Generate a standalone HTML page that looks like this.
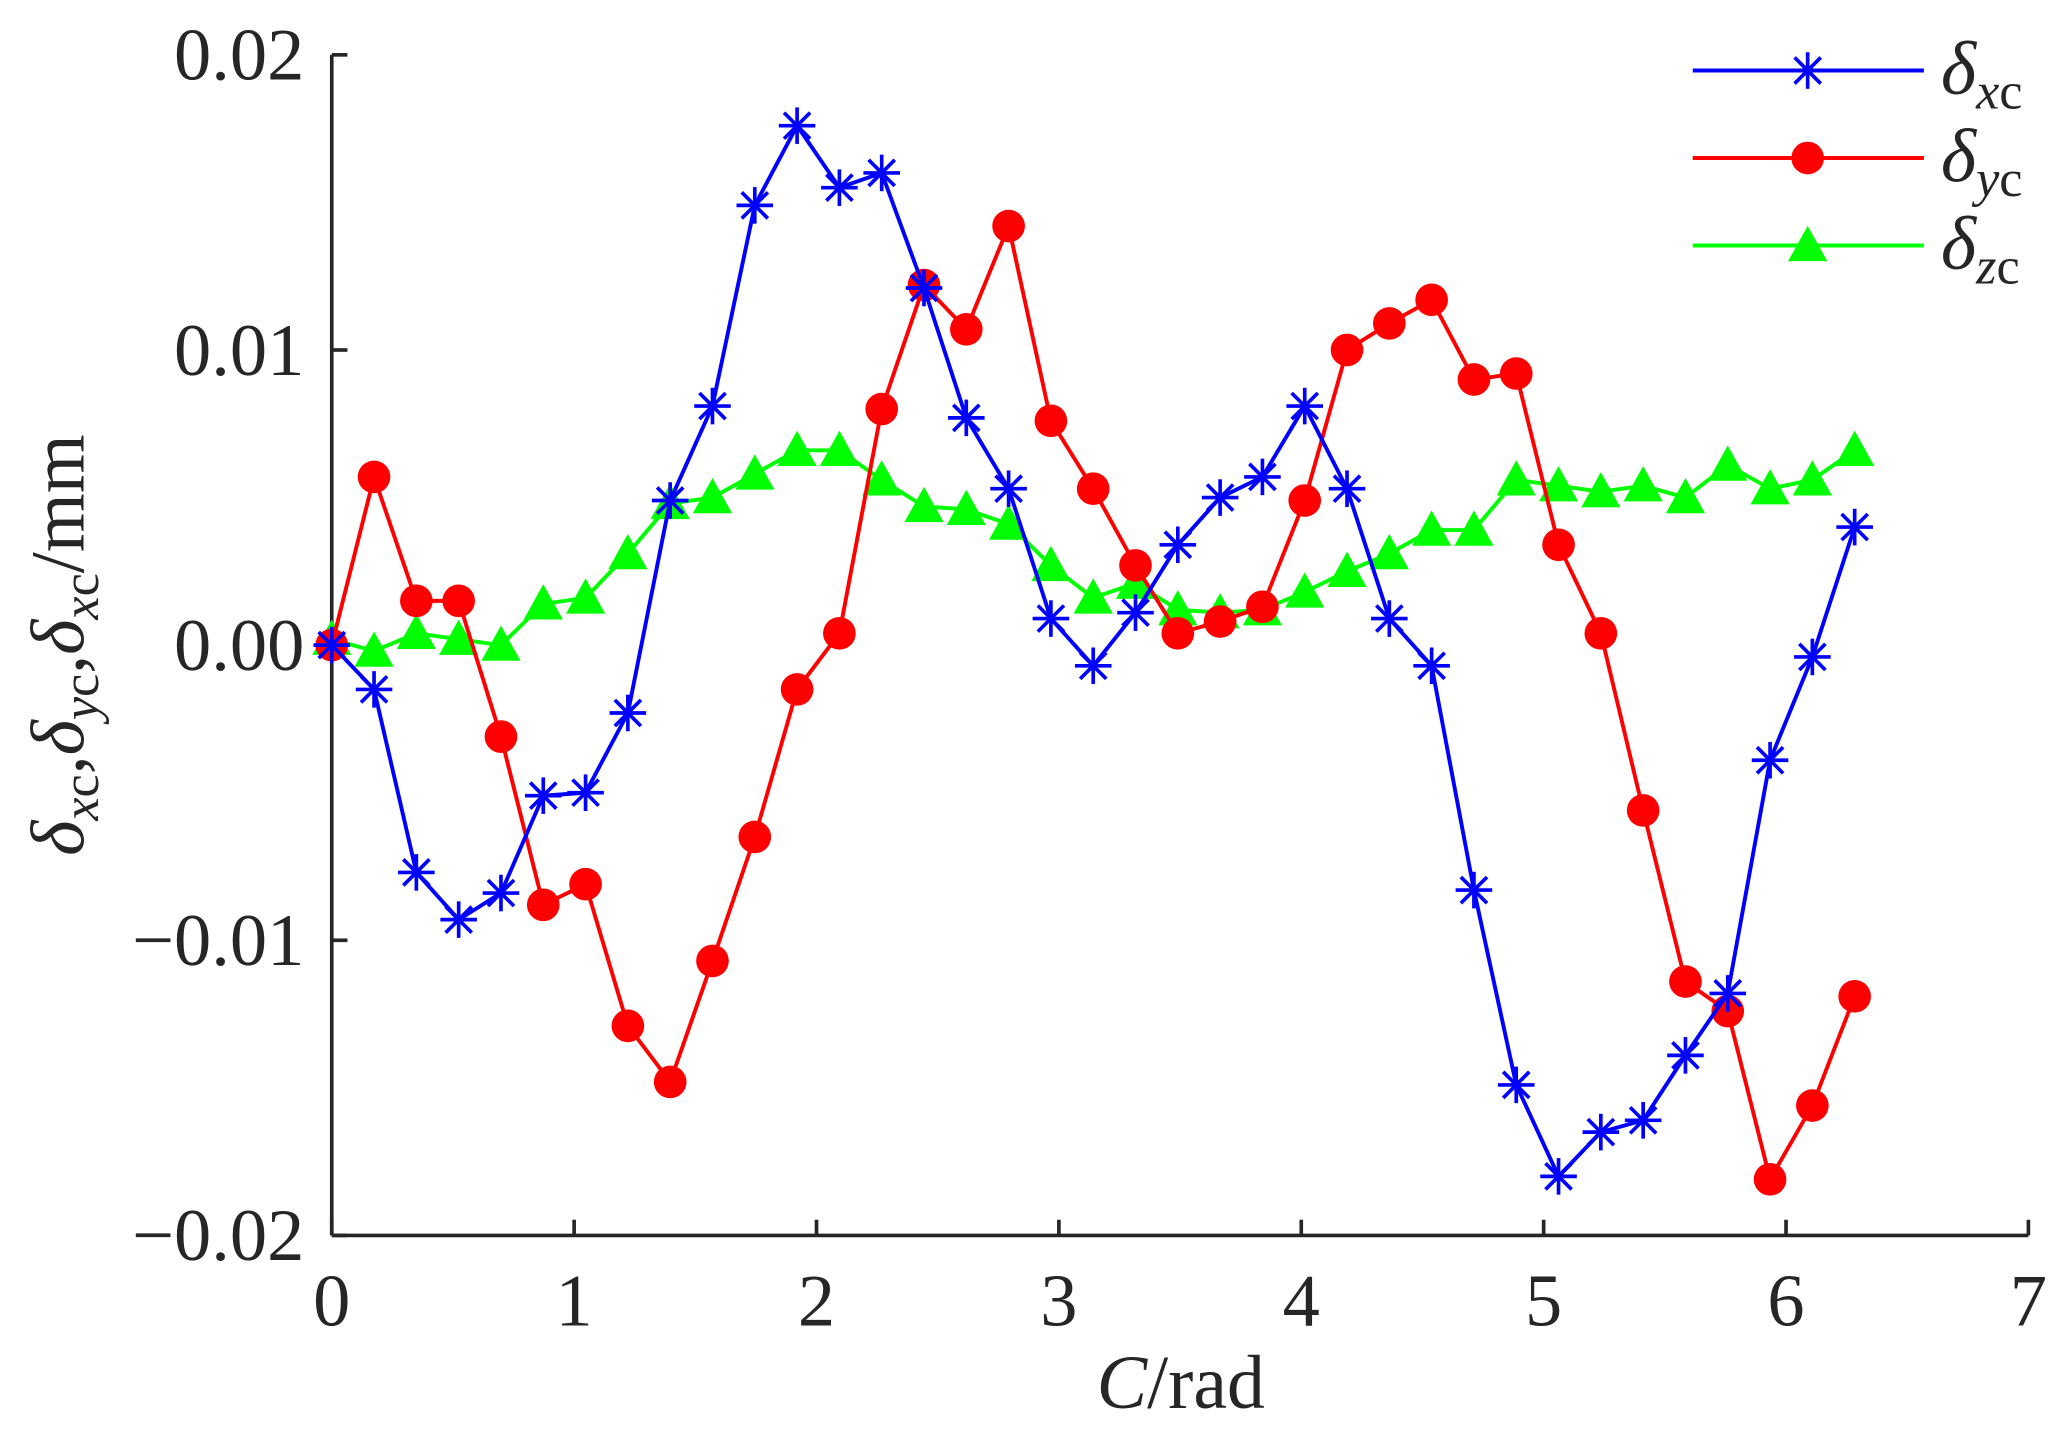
<!DOCTYPE html>
<html><head><meta charset="utf-8"><style>html,body{margin:0;padding:0;background:#fff}svg{display:block}</style></head>
<body>
<svg id="chart" width="2048" height="1430" viewBox="0 0 1568 1095" preserveAspectRatio="none" xmlns="http://www.w3.org/2000/svg" font-family="'Liberation Serif', serif">
<rect width="1568" height="1095" fill="#fff"/>
<g id="plot"></g>
</svg>
<script>
const xTicks=[0,1,2,3,4,5,6,7];
const yTicks=[0.02,0.01,0,-0.01,-0.02];
const yTickLabels=["0.02","0.01","0.00","\u22120.01","\u22120.02"];
const xcVals=[0,-0.0015,-0.0077,-0.0093,-0.0084,-0.0051,-0.005,-0.0023,0.0049,0.0081,0.0149,0.0176,0.0155,0.016,0.0121,0.0077,0.0053,0.0009,-0.0007,0.0011,0.0034,0.005,0.0057,0.0081,0.0053,0.0009,-0.0007,-0.0083,-0.0149,-0.018,-0.0165,-0.0161,-0.0139,-0.0118,-0.0039,-0.0004,0.004];
const ycVals=[0,0.0057,0.0015,0.0015,-0.0031,-0.0088,-0.0081,-0.0129,-0.0148,-0.0107,-0.0065,-0.0015,0.0004,0.008,0.0122,0.0107,0.0142,0.0076,0.0053,0.0027,0.0004,0.0008,0.0013,0.0049,0.01,0.0109,0.0117,0.009,0.0092,0.0034,0.0004,-0.0056,-0.0114,-0.0124,-0.0181,-0.0156,-0.0119];
const zcVals=[0.0002,-0.0002,0.0004,0.0002,0,0.0014,0.0016,0.0031,0.0048,0.005,0.0058,0.0066,0.0066,0.0056,0.0047,0.0046,0.0041,0.0027,0.0016,0.0021,0.0012,0.0011,0.0012,0.0018,0.0025,0.0031,0.0039,0.0039,0.0056,0.0054,0.0052,0.0054,0.005,0.0061,0.0053,0.0056,0.0066];

const NS="http://www.w3.org/2000/svg";
const g=document.getElementById('plot');
const X0=254,X1=1553,Y0=946,Y1=42;
const xs=v=>X0+(v-0)/(7-0)*(X1-X0);
const ys=v=>Y0-(v+0.02)/(0.04)*(Y0-Y1);
const cVal=i=>i*Math.PI/18;
function el(t,a,p){const e=document.createElementNS(NS,t);for(const k in a)e.setAttribute(k,a[k]);(p||g).appendChild(e);return e;}

let ax=el('line',{x1:X0,y1:Y1,x2:X0,y2:Y0,stroke:'#262626','stroke-width':2.8});


ax=el('line',{x1:X0,y1:Y0,x2:X1,y2:Y0,stroke:'#262626','stroke-width':2.8});


xTicks.forEach(t=>{
  const x=xs(t);
  el('line',{x1:x,y1:Y0,x2:x,y2:Y0-12,stroke:'#262626','stroke-width':2.8});
  const tx=el('text',{x:x,y:1015,'font-size':57,'text-anchor':'middle',fill:'#262626'});
  tx.textContent=t;
  
  
});
yTicks.forEach((t,i)=>{
  const y=ys(t);
  el('line',{x1:X0,y1:y,x2:X0+12,y2:y,stroke:'#262626','stroke-width':2.8});
  const tx=el('text',{x:233,y:y+19,'font-size':57,'text-anchor':'end',fill:'#262626'});
  tx.textContent=yTickLabels[i];
  
  
});
let xt=el('text',{x:904,y:1078,'font-size':58,'text-anchor':'middle',fill:'#262626'});
xt.innerHTML='<tspan font-style="italic">C</tspan>/rad';


let yt=el('text',{x:0,y:0,'font-size':58,'text-anchor':'middle',fill:'#262626',transform:'translate(64,494) rotate(-90)'});
yt.innerHTML='<tspan font-style="italic">δ</tspan><tspan font-style="italic" font-size="40" dy="11">x</tspan><tspan font-size="40">c</tspan><tspan dy="-11">,</tspan><tspan font-style="italic">δ</tspan><tspan font-style="italic" font-size="40" dy="11">y</tspan><tspan font-size="40">c</tspan><tspan dy="-11">,</tspan><tspan font-style="italic">δ</tspan><tspan font-style="italic" font-size="40" dy="11">x</tspan><tspan font-size="40">c</tspan><tspan dy="-11">/mm</tspan>';



function star(p,x,y,c){const r=14,d=10;
  [[x-r,y,x+r,y],[x,y-r,x,y+r],[x-d,y-d,x+d,y+d],[x-d,y+d,x+d,y-d]].forEach(a=>el('line',{x1:a[0],y1:a[1],x2:a[2],y2:a[3],stroke:c,'stroke-width':2.8},p));}
function dot(p,x,y,c){el('circle',{cx:x,cy:y,r:12.5,fill:c},p);}
function tri(p,x,y,c){el('polygon',{points:`${x},${y-15} ${x-15},${y+12} ${x+15},${y+12}`,fill:c},p);}

function series(vals,color,mk,name){
  const sg=el('g',{});
  
  
  const pts=vals.map((v,i)=>xs(cVal(i))+','+ys(v)).join(' ');
  el('polyline',{points:pts,fill:'none',stroke:color,'stroke-width':3},sg);
  vals.forEach((v,i)=>mk(sg,xs(cVal(i)),ys(v),color));
}
series(zcVals,'#00ff00',tri,'series-zc');
series(ycVals,'#ff0000',dot,'series-yc');
series(xcVals,'#0000ff',star,'series-xc');

const leg=[['#0000ff',star,'x',54],['#ff0000',dot,'y',121],['#00ff00',tri,'z',188]];
leg.forEach(l=>{
  const lg=el('g',{});
  
  
  el('line',{x1:1296,y1:l[3],x2:1473,y2:l[3],stroke:l[0],'stroke-width':3},lg);
  l[1](lg,1384,l[3],l[0]);
  const t=el('text',{x:1486,y:l[3]+18,'font-size':58,fill:'#262626'},lg);
  t.innerHTML='<tspan font-style="italic">δ</tspan><tspan font-style="italic" font-size="40" dy="11">'+l[2]+'</tspan><tspan font-size="40">c</tspan>';
});
</script>
</body></html>
